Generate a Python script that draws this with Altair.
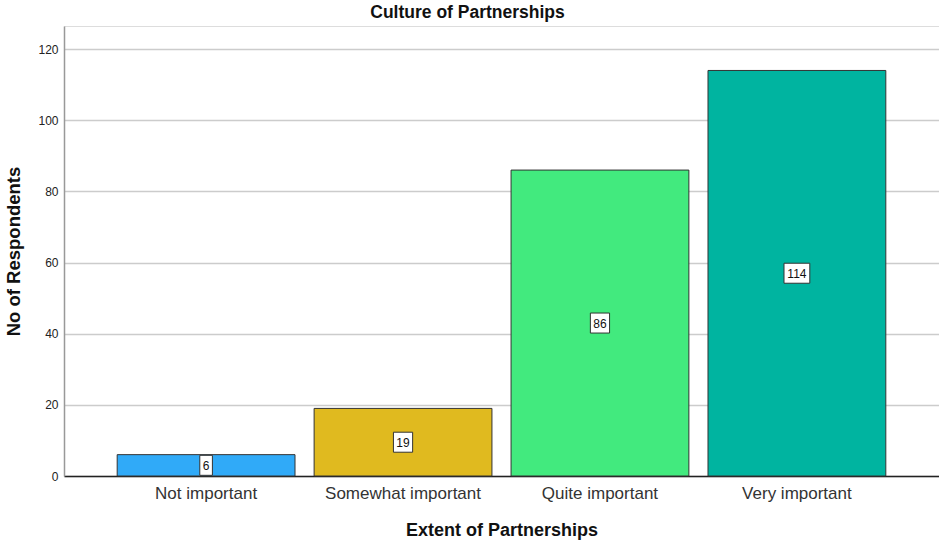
import altair as alt
import pandas as pd

categories = ["Not important", "Somewhat important", "Quite important", "Very important"]
counts = [6, 19, 86, 114]
colors = ["#30aaf8", "#e0ba1f", "#42ea7e", "#00b4a0"]

df = pd.DataFrame({"cat": categories, "n": counts})

FONT = "Liberation Sans"

x = alt.X(
    "cat:N",
    sort=categories,
    scale=alt.Scale(paddingInner=0.097, paddingOuter=0.27),
    axis=alt.Axis(
        title="Extent of Partnerships",
        labelAngle=0,
        labelFontSize=17,
        labelColor="#333333",
        labelFont=FONT,
        labelPadding=9,
        ticks=False,
        domainColor="#222222",
        domainWidth=1.5,
        titleFont=FONT,
        titleFontSize=18,
        titleFontWeight="bold",
        titleColor="#111111",
        titlePadding=20,
    ),
)

bars = alt.Chart(df).mark_bar(stroke="#333333", strokeWidth=1).encode(
    x=x,
    y=alt.Y(
        "n:Q",
        scale=alt.Scale(domain=[0, 126.5], nice=False),
        axis=alt.Axis(
            title="No of Respondents",
            values=[0, 20, 40, 60, 80, 100, 120],
            labelFontSize=12,
            labelColor="#222222",
            labelFont=FONT,
            labelPadding=6,
            ticks=False,
            grid=True,
            gridColor="#cccccc",
            gridWidth=1.5,
            domainColor="#999999",
            domainWidth=1.5,
            titleFont=FONT,
            titleFontSize=18.5,
            titleFontWeight="bold",
            titleColor="#111111",
            titlePadding=14,
        ),
    ),
    color=alt.Color("cat:N", sort=categories, scale=alt.Scale(domain=categories, range=colors), legend=None),
)

base = alt.Chart(df).transform_calculate(
    mid="datum.n / 2",
    hw="(length(toString(datum.n)) * 6.6 + 6) / 20",
    shp="'M' + (-datum.hw) + ',-1H' + datum.hw + 'V1H' + (-datum.hw) + 'Z'",
)

boxes = base.mark_point(filled=True, fill="white", stroke="#333333", strokeWidth=1, opacity=1, size=400).encode(
    x=alt.X("cat:N", sort=categories),
    y=alt.Y("mid:Q"),
    shape=alt.Shape("shp:N", scale=None),
)

labels = base.mark_text(font=FONT, fontSize=12, color="#111111", baseline="middle", dy=1).encode(
    x=alt.X("cat:N", sort=categories),
    y=alt.Y("mid:Q"),
    text="n:Q",
)

chart = (
    alt.layer(bars, boxes, labels)
    .properties(
        width=875,
        height=450,
        title=alt.TitleParams(
            "Culture of Partnerships",
            font=FONT,
            fontSize=17.5,
            fontWeight="bold",
            color="#111111",
            anchor="middle",
            dx=-34,
            offset=5,
        ),
        autosize=alt.AutoSizeParams(type="none"),
        padding={"left": 64, "top": 26, "right": 0, "bottom": 64},
    )
    .configure_view(stroke=None)
    .configure(background="white")
)

chart.save("out.html", embed_options={"renderer": "svg", "actions": False})
